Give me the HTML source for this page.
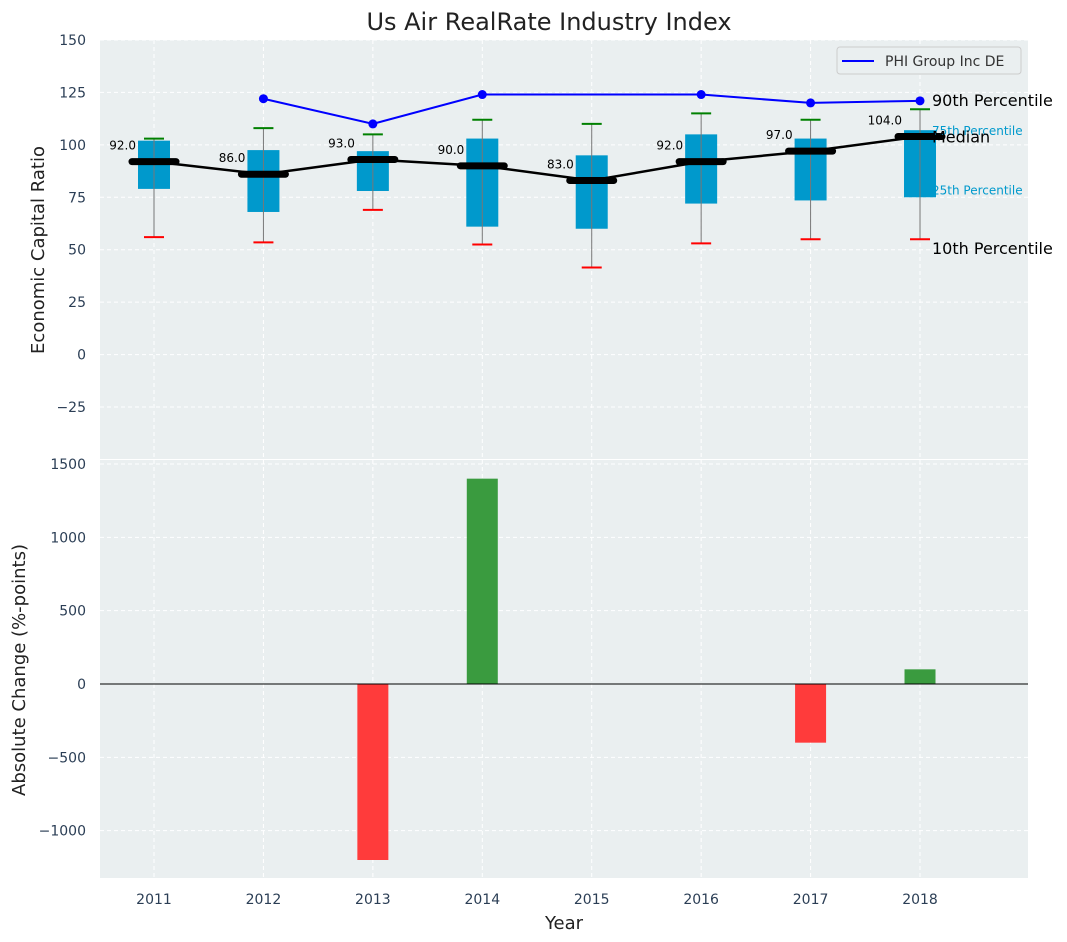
<!DOCTYPE html>
<html><head><meta charset="utf-8"><style>
body{margin:0;background:#fff;}
svg{font-family:"DejaVu Sans","Liberation Sans",sans-serif;display:block}
</style></head><body>
<svg id="c" width="1067" height="942" viewBox="0 0 1067 942"></svg>
<script>
const years=[2011,2012,2013,2014,2015,2016,2017,2018];
const p10=[56,53.5,69,52.5,41.5,53,55,55];
const q1=[79,68,78,61,60,72,73.5,75];
const med=[92,86,93,90,83,92,97,104];
const q3=[102,97.5,97,103,95,105,103,107];
const p90=[103,108,105,112,110,115,112,117];
const phiYears=[2012,2013,2014,2016,2017,2018];
const phiVals=[122,110,124,124,120,121];
const chgYears=[2013,2014,2017,2018];
const chgVals=[-1200,1400,-400,100];
const topTicks=[-25,0,25,50,75,100,125,150];
const botTicks=[-1000,-500,0,500,1000,1500];

const NS='http://www.w3.org/2000/svg';
const svg=document.getElementById('c');
function el(t,a,p){const e=document.createElementNS(NS,t);for(const k in a)e.setAttribute(k,a[k]);(p||svg).appendChild(e);return e;}
const L=100,R=1028;
const x=v=>154+(v-2011)*109.43;
const yT=v=>40+(150-v)*(367/175);
const yB=v=>684-v*(220/1500);

let r=el('rect',{x:L,y:40,width:R-L,height:419,fill:'#eaeff0'});

r=el('rect',{x:L,y:460,width:R-L,height:418,fill:'#eaeff0'});


const g=el('g',{stroke:'#fff','stroke-dasharray':'4,3','stroke-width':1});

years.forEach(v=>{el('line',{x1:x(v),x2:x(v),y1:40,y2:878},g);});
topTicks.forEach(v=>el('line',{x1:L,x2:R,y1:yT(v),y2:yT(v)},g));
botTicks.forEach(v=>el('line',{x1:L,x2:R,y1:yB(v),y2:yB(v)},g));

topTicks.forEach(v=>{const t=el('text',{x:86,y:yT(v)+5,'text-anchor':'end','font-size':14,fill:'#2b3e55'});t.textContent=v<0?'\u2212'+(-v):v;
});
botTicks.forEach(v=>{const t=el('text',{x:86,y:yB(v)+5,'text-anchor':'end','font-size':14,fill:'#2b3e55'});t.textContent=v<0?'\u2212'+(-v):v;
});
years.forEach(v=>{const t=el('text',{x:x(v),y:904,'text-anchor':'middle','font-size':14,fill:'#2b3e55'});t.textContent=v;
});

years.forEach((v,i)=>{
  const cx=x(v);
  const b=el('g',{});
  el('rect',{x:cx-16,y:yT(q3[i]),width:32,height:yT(q1[i])-yT(q3[i]),fill:'#0099cc'},b);
  el('line',{x1:cx,x2:cx,y1:yT(p10[i]),y2:yT(p90[i]),stroke:'#777','stroke-width':1},b);
  el('line',{x1:cx-10,x2:cx+10,y1:yT(p90[i]),y2:yT(p90[i]),stroke:'green','stroke-width':2},b);
  el('line',{x1:cx-10,x2:cx+10,y1:yT(p10[i]),y2:yT(p10[i]),stroke:'red','stroke-width':2},b);
});
let pl=el('polyline',{points:years.map((v,i)=>x(v)+','+yT(med[i])).join(' '),fill:'none',stroke:'#000','stroke-width':2.5});

years.forEach((v,i)=>{
  const m=el('line',{x1:x(v)-22,x2:x(v)+22,y1:yT(med[i]),y2:yT(med[i]),stroke:'#000','stroke-width':7,'stroke-linecap':'round'});
  
  const t=el('text',{x:x(v)-18,y:yT(med[i])-12,'text-anchor':'end','font-size':12,fill:'#000'});t.textContent=med[i].toFixed(1);
  
});
pl=el('polyline',{points:phiYears.map((v,i)=>x(v)+','+yT(phiVals[i])).join(' '),fill:'none',stroke:'#0000ff','stroke-width':2});

phiYears.forEach((v,i)=>{const c=el('circle',{cx:x(v),cy:yT(phiVals[i]),r:4.5,fill:'#0000ff'});
});

const lx=x(2018)+12;
function ann(txt,y,size,col,name){const t=el('text',{x:lx,y:y,'font-size':size,fill:col});t.textContent=txt;}
ann('75th Percentile',yT(q3[7])+5,12,'#0099cc','q3-annotation');
ann('25th Percentile',yT(q1[7])-3,12,'#0099cc','q1-annotation');
ann('90th Percentile',yT(phiVals[5])+5,16,'#000','p90-annotation');
ann('Median',yT(med[7])+6,16,'#000','median-annotation');
ann('10th Percentile',yT(p10[7])+15,16,'#000','p10-annotation');

const lg=el('g',{});
el('rect',{x:837,y:47,width:184,height:27,rx:3,fill:'#eaeff0',stroke:'#ccc'},lg);
el('line',{x1:842,x2:874,y1:61,y2:61,stroke:'#0000ff','stroke-width':2},lg);
let lt=el('text',{x:885,y:66,'font-size':14,fill:'#333'},lg);lt.textContent='PHI Group Inc DE';

chgYears.forEach((v,i)=>{const val=chgVals[i];
  const b=el('rect',{x:x(v)-15.5,y:Math.min(yB(val),yB(0)),width:31,height:Math.abs(yB(val)-yB(0)),fill:val>=0?'#3a9b3f':'#ff3b3b'});
  });
let z=el('line',{x1:L,x2:R,y1:yB(0),y2:yB(0),stroke:'#000','stroke-width':1});


let t=el('text',{x:549,y:30,'text-anchor':'middle','font-size':24,fill:'#222'});t.textContent='Us Air RealRate Industry Index';

t=el('text',{x:44,y:250,'text-anchor':'middle','font-size':18,fill:'#222',transform:'rotate(-90 44 250)'});t.textContent='Economic Capital Ratio';

t=el('text',{x:25,y:670,'text-anchor':'middle','font-size':18,fill:'#222',transform:'rotate(-90 25 670)'});t.textContent='Absolute Change (%-points)';

t=el('text',{x:564,y:929,'text-anchor':'middle','font-size':18,fill:'#222'});t.textContent='Year';

</script>
</body></html>
